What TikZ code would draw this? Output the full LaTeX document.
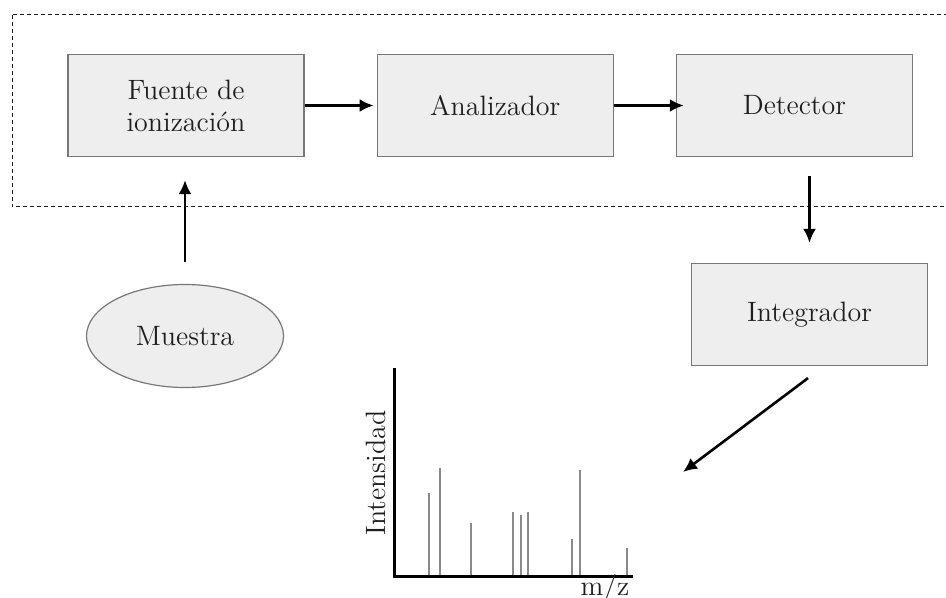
\documentclass[tikz,border=0pt]{standalone}
\usepackage{tikz}
\usetikzlibrary{shapes, shapes.geometric, arrows.meta, positioning}

\definecolor{cajagris}{HTML}{EEEEEE}
\definecolor{bordegris}{HTML}{777777}
\definecolor{textogris}{HTML}{1E1E1E}
\definecolor{picogris}{HTML}{8A8A8A}

\tikzset{
  bloque/.style={rectangle, draw=bordegris, fill=cajagris, line width=0.6pt,
    minimum width=118pt, minimum height=51pt, inner sep=0pt, align=center,
    text=textogris, font=\fontsize{14}{16}\selectfont},
  muestrastyle/.style={ellipse, draw=bordegris, fill=cajagris, line width=0.6pt,
    minimum width=98.5pt, minimum height=51.5pt, inner sep=0pt,
    text=textogris, font=\fontsize{14}{16}\selectfont},
  flecha/.style={-{Latex[length=7pt,width=6.5pt]}, line width=1.3pt, black},
  pico/.style={picogris, line width=1pt},
  eje/.style={black, line width=1.5pt}
}

\begin{document}
\begin{tikzpicture}[x=0.5pt, y=-0.5pt]
  \useasboundingbox (0,0) rectangle (946,598);

  % caja punteada del espectrometro
  \draw[textogris, line width=0.5pt, dash pattern=on 2pt off 1.5pt] (12,15) rectangle (960,207);

  \node[bloque] (fuente) at (186,105.5) {Fuente de\\ionización};
  \node[bloque, right=36pt of fuente] (analizador) {Analizador};
  \node[bloque, right=31pt of analizador] (detector) {Detector};
  \node[bloque] (integrador) at (809.5,314.5) {Integrador};
  \node[muestrastyle] (muestra) at (185,336) {Muestra};

  \draw[flecha, shorten >=1.5pt] (fuente.east) -- (analizador.west);
  \draw[flecha, shorten >=-4pt] (analizador.east) -- (detector.west);
  \draw[flecha, shorten <=11pt, shorten >=11.5pt] (muestra.north) -- (muestra.north |- fuente.south);
  \draw[flecha, shorten <=9.5pt, shorten >=10pt] (integrador.north |- detector.south) -- (integrador.north);

  % espectro de masas
  \coordinate (origen) at (394,576);
  \coordinate (tope) at (394,368);
  \coordinate (fin) at (633,576);
  \coordinate (llegada) at (683,472);
  \draw[flecha] ([shift={(-1.5,12)}]integrador.south) -- (llegada);

  \foreach \px/\py in {429/493, 440/468, 471/523, 513/512, 521/515, 528/512, 572/539, 580/470, 627/548}
    \draw[pico] (\px,576) -- (\px,\py);
  \draw[eje] (tope) -- (origen) -- (fin);

  \node[rotate=90, text=textogris, font=\fontsize{14}{16}\selectfont] (intensidad) at (376,473) {Intensidad};
  \node[text=textogris, font=\fontsize{14}{16}\selectfont, anchor=base] (mz) at (605,595) {m/z};
\end{tikzpicture}
\end{document}
